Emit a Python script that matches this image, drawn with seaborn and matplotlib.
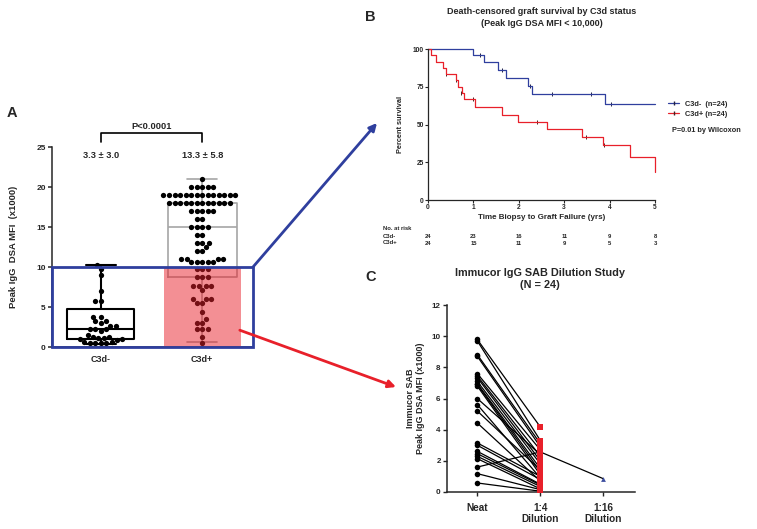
import matplotlib
matplotlib.use("Agg")
import numpy as np
import pandas as pd
import matplotlib.pyplot as plt
import matplotlib.patches as mpatches
from matplotlib.lines import Line2D
from matplotlib.patches import ConnectionPatch
import seaborn as sns

# ---------------- data ----------------
# Panel A, peak IgG DSA MFI (x1000)
groups = ["C3d-", "C3d+"]
c3d_neg = [10.3, 9.8, 9.0, 7.0, 5.8, 5.8, 3.8, 3.7, 3.3, 3.2, 3.0, 2.6, 2.6, 2.3, 2.2,
           2.2, 2.0, 1.5, 1.3, 1.2, 1.1, 1.1, 1.0, 1.0, 0.9, 0.6, 0.6, 0.5, 0.5, 0.5, 0.5]
c3d_pos = ([21] + [20] * 5 + [19] * 14 + [18] * 12 + [17] * 5 + [16] * 2 + [15] * 4
           + [14] * 2 + [13] * 3 + [12.5] + [12] * 2 + [11] * 4 + [10.6] * 5 + [9.7] * 3
           + [8.8] * 3 + [7.6] * 4 + [7.1] + [6.0] * 3 + [5.5] * 2 + [4.4] + [3.5]
           + [3.0] * 2 + [2.3] * 3 + [1.2] + [0.5])
mean_sd = ["3.3 \u00b1 3.0", "13.3 \u00b1 5.8"]
# box stats as shown: min, q1, median, q3, max
box_neg = [0.4, 1.0, 2.2, 4.8, 10.3]
box_pos = [0.6, 8.8, 15.0, 18.0, 21.0]
p_value = "P<0.0001"
cutoff = 10

# Panel B, KM survival (MFI < 10,000)
neg_time = [0, 1.0, 1.23, 1.55, 1.71, 2.2, 2.29, 3.9, 5.0]
neg_surv = [100, 95.8, 91.3, 86.2, 81.1, 75.8, 70.4, 63.4, 63.4]
neg_cens_t = [1.14, 1.62, 2.25, 2.73, 3.6, 4.03]
neg_cens_s = [95.8, 86.2, 75.8, 70.4, 70.4, 63.4]
pos_time = [0, 0.06, 0.18, 0.32, 0.39, 0.61, 0.67, 0.74, 0.79, 1.03, 1.64, 1.99, 2.63,
            3.4, 3.85, 4.45, 5.0]
pos_surv = [100, 95.8, 91.7, 87.5, 83.3, 79.2, 75.0, 70.8, 66.7, 61.6, 56.5, 51.4, 46.8,
            41.9, 36.5, 28.6, 18.7]
pos_cens_t = [0.4, 0.62, 0.73, 0.99, 2.39, 3.49, 3.87]
pos_cens_s = [83.3, 79.2, 70.8, 66.7, 51.4, 41.9, 36.5]
risk_years = [0, 1, 2, 3, 4, 5]
risk_neg = [24, 23, 16, 11, 9, 8]
risk_pos = [24, 15, 11, 9, 5, 3]

# Panel C, dilution study (x1000)
dilutions = ["Neat", "1:4\nDilution", "1:16\nDilution"]
neat = [9.79, 9.70, 8.82, 8.71, 7.60, 7.45, 7.34, 7.10, 6.96, 6.90, 6.80, 6.00,
        5.61, 5.20, 4.43, 3.15, 3.00, 2.61, 2.46, 2.29, 2.14, 1.60, 1.18, 0.58]
dil_4 = [4.17, 3.30, 3.10, 2.90, 2.70, 2.30, 2.00, 1.80, 1.50, 1.30, 1.10, 2.40,
         0.90, 1.40, 0.70, 1.00, 0.80, 0.50, 0.45, 0.35, 0.20, 2.57, 0.15, 0.05]
dil_16 = [None] * 21 + [0.85] + [None] * 2

# ---------------- style ----------------
sns.set_style("ticks")
plt.rcParams['font.family'] = ['Liberation Sans', 'DejaVu Sans']
plt.rcParams['font.weight'] = 'bold'
plt.rcParams['axes.labelweight'] = 'bold'
plt.rcParams['axes.linewidth'] = 1.1

blue = "#2f3f9e"
red = "#e8202a"
W, H = 757, 529


def px(x, y):
    return x / W, 1 - y / H


fig = plt.figure(figsize=(W / 100, H / 100), dpi=100)

# ================= Panel A =================
axA = fig.add_axes([52 / W, 1 - 347 / H, 201 / W, 200 / H])
dfA = pd.DataFrame({"group": ["C3d-"] * len(c3d_neg) + ["C3d+"] * len(c3d_pos),
                    "mfi": c3d_neg + c3d_pos})
sns.swarmplot(data=dfA, x="group", y="mfi", order=groups, color="black", size=3.8,
              linewidth=0, ax=axA, zorder=3, warn_thresh=1)

for pos, stats, col, lw, wd in [(0, box_neg, "black", 1.5, 0.66), (1, box_pos, "#a6a6a6", 1.2, 0.68)]:
    st = dict(whislo=stats[0], q1=stats[1], med=stats[2], q3=stats[3], whishi=stats[4], fliers=[])
    props = dict(color=col, linewidth=lw)
    axA.bxp([st], positions=[pos], widths=wd, showfliers=False, manage_ticks=False,
            capwidths=0.3, boxprops=props, whiskerprops=props, capprops=props,
            medianprops=props, zorder=2)

axA.add_patch(mpatches.Rectangle((1 - 0.38, 0), 0.76, cutoff, color=red, alpha=0.5,
                                 lw=0, zorder=4))
axA.add_patch(mpatches.Rectangle((0, 0), 1, cutoff, transform=axA.get_yaxis_transform(),
                                 fill=False, edgecolor=blue, lw=2, clip_on=False, zorder=6))

axA.set_xlim(-0.48, 1.5)
axA.set_ylim(0, 25)
axA.set_yticks([0, 5, 10, 15, 20, 25])
axA.tick_params(axis="y", labelsize=6, length=3, width=1.1, pad=1.5)
axA.tick_params(axis="x", labelsize=6.5, length=0, pad=6)
axA.set_xlabel("")
axA.set_ylabel("Peak IgG  DSA MFI  (x1000)", fontsize=6.8, labelpad=13)
sns.despine(ax=axA)

for i, txt in enumerate(mean_sd):
    axA.text(i, 23.9, txt, ha="center", va="center", fontsize=6.7)
axA.plot([0, 0, 1, 1], [25.6, 26.75, 26.75, 25.6], color="black", lw=1.2, clip_on=False)
axA.text(0.5, 26.95, p_value, ha="center", va="bottom", fontsize=6.7)
fig.text(*px(12, 113), "A", fontsize=10.5, ha="center", va="center")

# ================= Panel B =================
axB = fig.add_axes([428 / W, 1 - 200 / H, 227 / W, 151 / H])
sns.lineplot(x=neg_time, y=neg_surv, drawstyle="steps-post", estimator=None, sort=False,
             color=blue, lw=0.9, ax=axB, clip_on=False)
sns.lineplot(x=pos_time, y=pos_surv, drawstyle="steps-post", estimator=None, sort=False,
             color=red, lw=0.9, ax=axB, clip_on=False)
sns.scatterplot(x=neg_cens_t, y=neg_cens_s, marker="|", s=10, color="#222244", linewidth=0.7, ax=axB)
sns.scatterplot(x=pos_cens_t, y=pos_cens_s, marker="|", s=10, color="#442222", linewidth=0.7, ax=axB)
axB.set_xlim(0, 5)
axB.set_ylim(0, 100)
axB.set_xticks([0, 1, 2, 3, 4, 5])
axB.set_yticks([0, 25, 50, 75, 100])
axB.tick_params(labelsize=4.8, length=2, width=0.8, pad=1)
for s in ["left", "bottom"]:
    axB.spines[s].set_linewidth(0.9)
sns.despine(ax=axB)
axB.set_xlabel("Time Biopsy to Graft Failure (yrs)", fontsize=5.8, labelpad=2)
axB.set_ylabel("Percent survival", fontsize=5.3, labelpad=6)

handles = [Line2D([], [], color=blue, lw=0.9, marker="|", markersize=3, markeredgecolor="#222244"),
           Line2D([], [], color=red, lw=0.9, marker="|", markersize=3, markeredgecolor="#442222")]
axB.legend(handles, ["C3d-  (n=24)", "C3d+ (n=24)"], loc="upper left",
           bbox_to_anchor=px(664, 97), bbox_transform=fig.transFigure, frameon=False,
           fontsize=5.3, handlelength=1.6, handletextpad=0.8, labelspacing=0.35, borderpad=0)
fig.text(*px(672, 131), "P=0.01 by Wilcoxon", fontsize=5.3, va="center")

fig.text(*px(542, 12), "Death-censored graft survival by C3d status", fontsize=6.5,
         ha="center", va="center")
fig.text(*px(542, 23), "(Peak IgG DSA MFI < 10,000)", fontsize=6.5, ha="center", va="center")
fig.text(*px(370, 17), "B", fontsize=10.5, ha="center", va="center")

tr = axB.get_xaxis_transform()
fig.text(*px(383, 228), "No. at risk", fontsize=4.2, va="center")
fig.text(*px(383, 236), "C3d-", fontsize=4.2, va="center")
fig.text(*px(383, 243), "C3d+", fontsize=4.2, va="center")
for yr, a, b in zip(risk_years, risk_neg, risk_pos):
    axB.text(yr, -(236 - 200) / 151, str(a), transform=tr, fontsize=4.2, ha="center", va="center")
    axB.text(yr, -(243 - 200) / 151, str(b), transform=tr, fontsize=4.2, ha="center", va="center")

# ================= Panel C =================
axC = fig.add_axes([447 / W, 1 - 492 / H, 188 / W, 187 / H])
rows = []
for i in range(len(neat)):
    rows.append((i, 0, neat[i]))
    rows.append((i, 1, dil_4[i]))
    if dil_16[i] is not None:
        rows.append((i, 2, dil_16[i]))
dfC = pd.DataFrame(rows, columns=["sample", "pos", "mfi"])
sns.lineplot(data=dfC, x="pos", y="mfi", units="sample", estimator=None, sort=False,
             color="black", lw=0.9, ax=axC, zorder=2)
sns.scatterplot(data=dfC[dfC.pos == 0], x="pos", y="mfi", marker="o", s=16, color="black",
                linewidth=0, ax=axC, zorder=3)
sns.scatterplot(data=dfC[dfC.pos == 1], x="pos", y="mfi", marker="s", s=16, color=red,
                linewidth=0, ax=axC, zorder=3)
sns.scatterplot(data=dfC[dfC.pos == 2], x="pos", y="mfi", marker="^", s=12, color="#3e4fa0",
                linewidth=0, ax=axC, zorder=3)
axC.set_xlim(-0.48, 2.5)
axC.set_ylim(0, 12)
axC.set_yticks([0, 2, 4, 6, 8, 10, 12])
axC.set_xticks([0, 1, 2])
axC.set_xticklabels(dilutions, fontsize=7.2, linespacing=1.1)
axC.tick_params(axis="y", labelsize=5.8, length=3, width=1.0, pad=1.5)
axC.tick_params(axis="x", length=3, width=1.0, pad=5)
sns.despine(ax=axC)
axC.set_xlabel("")
axC.set_ylabel("Immucor SAB\nPeak IgG DSA MFI (x1000)", fontsize=6.5, labelpad=5, linespacing=1.1)
fig.text(*px(540, 273), "Immucor IgG SAB Dilution Study", fontsize=7.8, ha="center", va="center")
fig.text(*px(540, 285), "(N = 24)", fontsize=7.8, ha="center", va="center")
fig.text(*px(371, 277), "C", fontsize=10.5, ha="center", va="center")

# ---- connector arrows
con_b = ConnectionPatch(xyA=(1.0, cutoff), coordsA=axA.get_yaxis_transform(),
                        xyB=px(377, 123), coordsB=fig.transFigure,
                        arrowstyle="-|>", mutation_scale=11, color=blue, lw=2)
fig.add_artist(con_b)
con_c = ConnectionPatch(xyA=(1.37, 2.1), coordsA=axA.transData,
                        xyB=px(396, 387), coordsB=fig.transFigure,
                        arrowstyle="-|>", mutation_scale=11, color=red, lw=2)
fig.add_artist(con_c)

fig.savefig("out.png", dpi=100)
